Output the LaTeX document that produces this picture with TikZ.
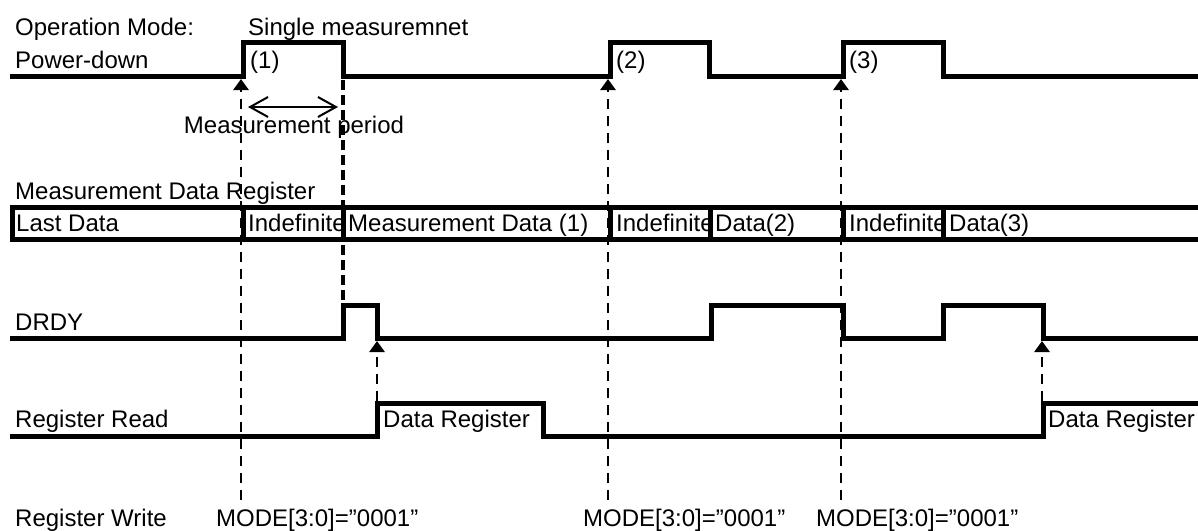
\documentclass[tikz,border=0pt]{standalone}
\usepackage{fontspec}
\setmainfont{Liberation Sans}
\usetikzlibrary{arrows.meta}
\begin{document}
\begin{tikzpicture}[x=1pt,y=-1pt,
  sig/.style={line width=5pt, line join=miter, line cap=butt},
  vdash/.style={line width=2.7pt, dash pattern=on 10pt off 7pt},
  vdashB/.style={line width=3.5pt, dash pattern=on 10pt off 5pt},
  txt/.style={anchor=base west, inner sep=0pt, font=\fontsize{24}{28}\selectfont},
  tri/.style={-{Triangle[length=11pt,width=15pt]}},
  barb/.style={line width=2pt, {Straight Barb[length=18pt,width=20pt]}-{Straight Barb[length=18pt,width=20pt]}}
]
\useasboundingbox (0,0) rectangle (1198,530);

% ---------- labels ----------
\node[txt] (opmode) at (15,35) {Operation Mode:};
\node[txt] (single) at (248,35) {Single measuremnet};
\node[txt] (pd) at (15,68) {Power-down};
\node[txt] (n1) at (250,68) {(1)};
\node[txt] (n2) at (616,68) {(2)};
\node[txt] (n3) at (849,68) {(3)};
\node[txt, anchor=base] (mper) at (294,133) {Measurement period};
\node[txt] (mdr) at (15,199) {Measurement Data Register};
\node[txt] (last) at (16,231) {Last Data};
\node[txt] (ind1) at (248,231) {Indefinite};
\node[txt] (md1) at (348,231) {Measurement Data (1)};
\node[txt] (ind2) at (616,231) {Indefinite};
\node[txt] (d2) at (715,231) {Data(2)};
\node[txt] (ind3) at (849,231) {Indefinite};
\node[txt] (d3) at (949,231) {Data(3)};
\node[txt] (drdy) at (15,330) {DRDY};
\node[txt] (rr) at (15,427) {Register Read};
\node[txt] (dr1) at (383,427) {Data Register};
\node[txt] (dr2) at (1048,427) {Data Register};
\node[txt] (rw) at (15,526) {Register Write};
\node[txt] (m1) at (216,526) {MODE[3:0]="0001"};
\node[txt] (m2) at (583,526) {MODE[3:0]="0001"};
\node[txt] (m3) at (816,526) {MODE[3:0]="0001"};

% ---------- signals ----------
% Power-down
\draw[sig] (10,76) -- (243,76) -- (243,42) -- (343,42) -- (343,76) -- (610,76) -- (610,42)
  -- (709,42) -- (709,76) -- (843,76) -- (843,42) -- (943,42) -- (943,76) -- (1198,76);

% Measurement data register bus
\draw[sig] (1198,207) -- (12,207) -- (12,239) -- (1198,239);
\foreach \xx in {243,343,610,710,843,943}
  \draw[sig] (\xx,207) -- (\xx,239);

% DRDY
\draw[sig] (10,338) -- (343,338) -- (343,305) -- (377,305) -- (377,338) -- (711,338) -- (711,305)
  -- (843,305) -- (843,338) -- (943,338) -- (943,305) -- (1043,305) -- (1043,338) -- (1198,338);

% Register Read
\draw[sig] (10,436) -- (377,436) -- (377,403) -- (543,403) -- (543,436) -- (1043,436) -- (1043,403) -- (1198,403);

% ---------- coordinates for connectors ----------
\coordinate (w1) at (241,500);
\coordinate (t1) at (241,79);
\coordinate (w2) at (608,500);
\coordinate (t2) at (608,79);
\coordinate (w3) at (841,500);
\coordinate (t3) at (841,79);
\coordinate (e1a) at (343,80);
\coordinate (e1b) at (343,303);
\coordinate (r1) at (377,401);
\coordinate (s1) at (377,341);
\coordinate (r2) at (1042,401);
\coordinate (s2) at (1042,341);
\coordinate (mpL) at (248,107);
\coordinate (mpR) at (338,107);

% ---------- connectors ----------
\draw[vdash,tri] (w1) -- (t1);
\draw[vdash,tri] (w2) -- (t2);
\draw[vdash,tri] (w3) -- (t3);
\draw[vdashB] (e1a) -- (e1b);
\draw[vdash,tri] (r1) -- (s1);
\draw[vdash,tri] (r2) -- (s2);
\draw[barb] (mpL) -- (mpR);
\end{tikzpicture}
\end{document}
